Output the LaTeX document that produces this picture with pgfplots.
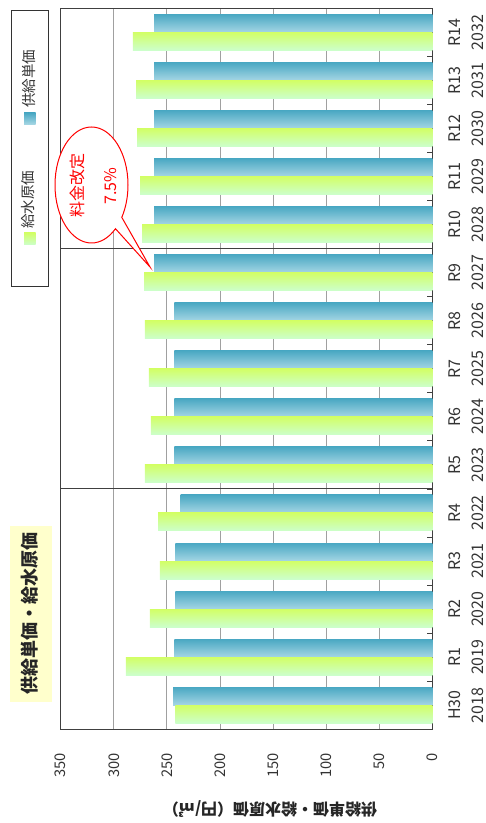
\documentclass[border=0pt]{standalone}
\usepackage{pgfplots}
\pgfplotsset{compat=1.18}
\usepackage{pgfplotstable}
\usepackage{fontspec}
\setmainfont{Noto Sans CJK JP}
\usetikzlibrary{shapes.callouts}
\definecolor{bluetop}{HTML}{4AA8C3}
\definecolor{bluebot}{HTML}{A5D6E4}
\definecolor{greentop}{HTML}{D2FF66}
\definecolor{greenbot}{HTML}{CCFFCC}
\definecolor{gridgray}{HTML}{A0A0A0}
\definecolor{axisgray}{HTML}{404040}
\definecolor{titlebg}{HTML}{FFFFCC}

\pgfplotstableread{
idx val
0 244
1 243
2 242
3 242
4 237
5 243
6 243
7 243
8 243
9 262
10 262
11 262
12 262
13 262
14 262
}\supply

\pgfplotstableread{
idx val
0 242
1 288.5
2 266
3 256.5
4 258.3
5 270.6
6 265
7 267
8 270.6
9 271.5
10 273.4
11 275.3
12 278
13 279
14 282
}\cost

\begin{document}
\begin{tikzpicture}
\path[use as bounding box] (0pt,0pt) rectangle (486pt,823pt);
% title box
\fill[titlebg] (10pt,121.3pt) rectangle (52pt,297pt);
\node[rotate=90, font=\fontsize{18}{20}\selectfont\bfseries, text=black!85] at (30pt,209pt) {供給単価・給水原価};
% legend
\draw[black!80, line width=0.8pt, fill=white] (11.3pt,536.3pt) rectangle (48.7pt,812.3pt);
\shade[top color=bluetop, bottom color=bluebot] (24pt,698.7pt) rectangle (35.7pt,710pt);
\node[rotate=90, anchor=west, inner sep=0pt, font=\fontsize{14.5}{16}\selectfont, text=black!80] at (28.5pt,715pt) {供給単価};
\shade[top color=greentop, bottom color=greenbot] (24pt,578pt) rectangle (35.7pt,590pt);
\node[rotate=90, anchor=west, inner sep=0pt, font=\fontsize{14.5}{16}\selectfont, text=black!80] at (28.5pt,594pt) {給水原価};

\begin{axis}[
  at={(60.7pt,93.7pt)}, anchor=south west,
  width=371.6pt, height=721pt, scale only axis,
  xbar, x dir=reverse,
  xmin=0, xmax=350, ymin=-0.5, ymax=14.5,
  xtick={0,50,...,350},
  ytick={0,...,14},
  yticklabels={{H30\\2018},{R1\\2019},{R2\\2020},{R3\\2021},{R4\\2022},{R5\\2023},{R6\\2024},{R7\\2025},{R8\\2026},{R9\\2027},{R10\\2028},{R11\\2029},{R12\\2030},{R13\\2031},{R14\\2032}},
  minor ytick={0.5,1.5,...,13.5},
  ytick pos=right, yticklabel pos=right,
  xtick pos=bottom,
  major tick length=0pt, minor tick length=5pt, tick align=inside,
  minor tick style={axisgray, line width=0.8pt},
  xmajorgrids=true,
  major grid style={gridgray, line width=0.9pt},
  extra y ticks={4.5,9.5}, extra y tick labels={},
  extra y tick style={grid=major, major grid style={axisgray, line width=1pt}},
  axis line style={axisgray, line width=1pt},
  /pgf/number format/assume math mode=true,
  xticklabel style={rotate=90, anchor=east, inner sep=0pt, font=\fontsize{14.7}{16}\selectfont, text=black!80},
  xticklabel shift=23.5pt,
  yticklabel style={rotate=90, anchor=north, inner sep=0pt, align=center, font=\fontsize{16}{23.5}\selectfont, text=black!80},
  yticklabel shift=16pt,
]
\pgfplotsinvokeforeach{0,...,14}{
  \addplot[xbar, bar width=18pt, bar shift=9pt, draw=none, top color=bluetop, bottom color=bluebot, restrict expr to domain={\coordindex}{#1:#1}] table[x=val, y=idx] {\supply};
  \addplot[xbar, bar width=18pt, bar shift=-9pt, draw=none, top color=greentop, bottom color=greenbot, restrict expr to domain={\coordindex}{#1:#1}] table[x=val, y=idx] {\cost};
}
\end{axis}

% callout
\node[ellipse callout, draw=red, line width=1pt, fill=white, minimum width=73pt, minimum height=116pt, inner sep=0pt, callout absolute pointer={(150pt,556pt)}] at (91.5pt,638pt) {};
\node[rotate=90, align=center, text=red, font=\fontsize{16}{33}\selectfont] at (93pt,637pt) {料金改定\\7.5\%};

% value axis title (upside down)
\node[rotate=180, font=\fontsize{16}{18}\selectfont\bfseries, text=black!85] at (270pt,14pt) {供給単価・給水原価（円/㎥）};
\end{tikzpicture}
\end{document}
